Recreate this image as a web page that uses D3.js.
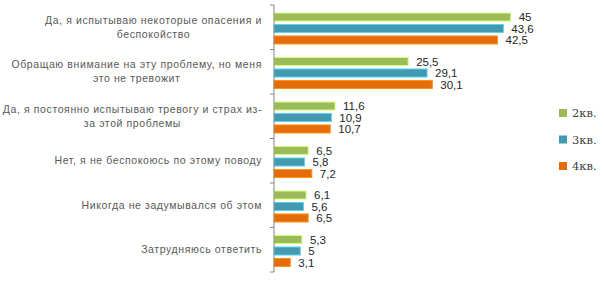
<!DOCTYPE html>
<html>
<head>
<meta charset="utf-8">
<script src="https://cdn.jsdelivr.net/npm/d3@7"></script>
<style>
    body { margin: 0; background: #fff; }
    svg { display: block; }
</style>
</head>
<body>
<div id="chart"></div>
<script>
// Категории (строки подписи, как в оригинале)
const categories = [
    ["Да, я испытываю некоторые опасения и", "беспокойство"],
    ["Обращаю внимание на эту проблему, но меня", "это не тревожит"],
    ["Да, я постоянно испытываю тревогу и страх из-", "за этой проблемы"],
    ["Нет, я не беспокоюсь по этому поводу"],
    ["Никогда не задумывался об этом"],
    ["Затрудняюсь ответить"]
];

const seriesNames = ["2кв.", "3кв.", "4кв."];
const q2 = [45, 25.5, 11.6, 6.5, 6.1, 5.3];
const q3 = [43.6, 29.1, 10.9, 5.8, 5.6, 5];
const q4 = [42.5, 30.1, 10.7, 7.2, 6.5, 3.1];
const seriesColors = ["#9bbb59", "#4299b0", "#e46c0a"];

const W = 604, H = 285;
const fmt = v => String(v).replace(".", ",");

const svg = d3.select("#chart").append("svg")
    .attr("width", W)
    .attr("height", H);

// Échelles
const y = d3.scaleBand()
    .domain(d3.range(categories.length))
    .range([5, 272]);

const yInner = d3.scaleBand()
    .domain(seriesNames)
    .range([8, 39])
    .paddingInner(0.3);

const x = d3.scaleLinear()
    .domain([0, 50])
    .range([274, 537]);

const allSeries = [q2, q3, q4].map((vals, i) => ({
    name: seriesNames[i],
    color: seriesColors[i],
    values: vals
}));

// Barres
allSeries.forEach(s => {
    const g = svg.append("g");
    g.selectAll("rect")
        .data(s.values)
        .enter()
        .append("rect")
        .attr("x", x(0))
        .attr("y", (d, i) => y(i) + yInner(s.name))
        .attr("width", d => x(d) - x(0))
        .attr("height", yInner.bandwidth())
        .attr("fill", s.color)
        .attr("stroke", d3.color(s.color).brighter(0.9))
        .attr("stroke-width", 1);

    g.selectAll("text")
        .data(s.values)
        .enter()
        .append("text")
        .attr("x", d => x(d) + 8)
        .attr("y", (d, i) => y(i) + yInner(s.name) + yInner.bandwidth() / 2)
        .attr("dy", "0.35em")
        .attr("font-family", "Liberation Sans, Arial, sans-serif")
        .attr("font-size", "11.5px")
        .attr("fill", "#262626")
        .text(fmt);
});

// Axe vertical avec graduations entre catégories
const axisG = svg.append("g");
axisG.append("line")
    .attr("x1", x(0)).attr("x2", x(0))
    .attr("y1", y.range()[0]).attr("y2", y.range()[1])
    .attr("stroke", "#868686");

const tickPos = d3.range(categories.length + 1).map(i => y.range()[0] + i * y.step());
axisG.selectAll(".tick")
    .data(tickPos)
    .enter()
    .append("line")
    .attr("x1", x(0) - 4).attr("x2", x(0))
    .attr("y1", d => d).attr("y2", d => d)
    .attr("stroke", "#868686");

// Подписи категорий
const labelRight = 262;
const lineH = 14;
categories.forEach((lines, i) => {
    const t = svg.append("text")
        .attr("font-family", "Liberation Sans, Arial, sans-serif")
        .attr("font-size", "10.5px")
        .attr("letter-spacing", "0.6px")
        .attr("fill", "#595959")
        .attr("text-anchor", "middle");
    const cy = y(i) + y.bandwidth() / 2;
    const spans = lines.map((ln, j) => t.append("tspan")
        .attr("y", cy + (j - (lines.length - 1) / 2) * lineH)
        .attr("dy", "0.35em")
        .text(ln));
    const maxW = d3.max(spans, s => s.node().getComputedTextLength());
    spans.forEach(s => s.attr("x", labelRight - maxW / 2));
});

// Légende
const legend = svg.append("g");
allSeries.forEach((s, i) => {
    const ly = 113 + i * 26.5;
    legend.append("rect")
        .attr("x", 559).attr("y", ly - 4)
        .attr("width", 8).attr("height", 8)
        .attr("fill", s.color);
    legend.append("text")
        .attr("x", 572).attr("y", ly)
        .attr("dy", "0.35em")
        .attr("font-family", "DejaVu Serif, serif")
        .attr("font-size", "11.5px")
        .attr("fill", "#404040")
        .text(s.name);
});
</script>
</body>
</html>
